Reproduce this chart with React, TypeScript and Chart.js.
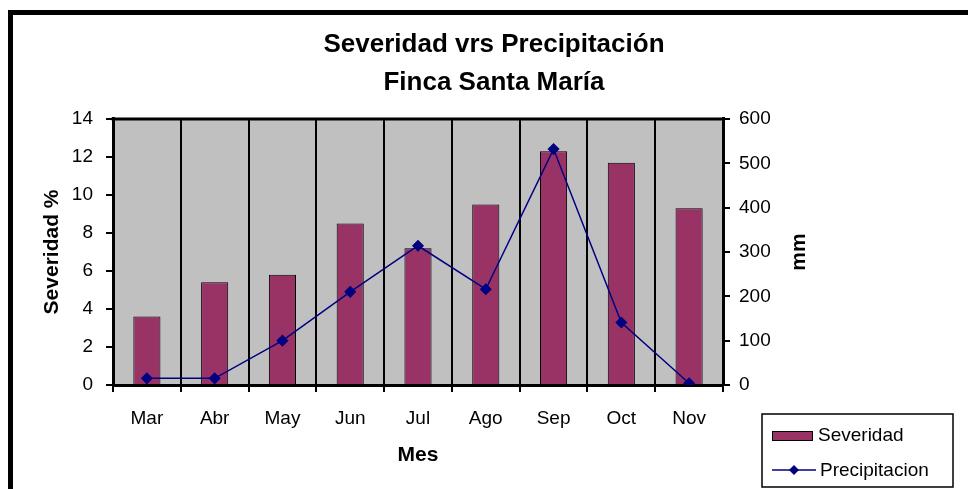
import React, { useEffect, useRef } from "react";
import { Chart, registerables } from "chart.js";

Chart.register(...registerables);

const months = ["Mar", "Abr", "May", "Jun", "Jul", "Ago", "Sep", "Oct", "Nov"];
const severidad = [3.6, 5.4, 5.8, 8.5, 7.2, 9.5, 12.3, 11.7, 9.3];
const precipitacion = [15, 15, 100, 210, 314, 216, 532, 141, 4];
const titleLines = ["Severidad vrs Precipitación", "Finca Santa María"];
const severidadLabel = "Severidad";
const precipLabel = "Precipitacion";
const leftAxisTitle = "Severidad %";
const rightAxisTitle = "mm";
const xAxisTitle = "Mes";

const FONT = '"Liberation Sans", Arial, Helvetica, sans-serif';
const BAR_COLOR = "#993366";
const LINE_COLOR = "#000080";
const PLOT_BG = "#C0C0C0";

export default function App() {
  const canvasRef = useRef<HTMLCanvasElement | null>(null);

  useEffect(() => {
    const canvas = canvasRef.current;
    if (!canvas) return;

    const decorPlugin = {
      id: "decor",
      beforeDraw(chart: any) {
        const { ctx, chartArea } = chart;
        ctx.save();
        ctx.fillStyle = PLOT_BG;
        ctx.fillRect(chartArea.left, chartArea.top, chartArea.right - chartArea.left, chartArea.bottom - chartArea.top);
        ctx.restore();
      },
      afterDraw(chart: any) {
        const { ctx, chartArea } = chart;
        ctx.save();
        // top border of plot area
        ctx.strokeStyle = "#000";
        ctx.lineWidth = 3;
        ctx.beginPath();
        ctx.moveTo(chartArea.left - 1.5, chartArea.top);
        ctx.lineTo(chartArea.right + 1.5, chartArea.top);
        ctx.stroke();

        // right axis title, rotated counter-clockwise
        ctx.fillStyle = "#000";
        ctx.font = `bold 21px ${FONT}`;
        ctx.textAlign = "center";
        ctx.textBaseline = "middle";
        ctx.translate(799, (chartArea.top + chartArea.bottom) / 2);
        ctx.rotate(-Math.PI / 2);
        ctx.fillText(rightAxisTitle, 0, 0);
        ctx.restore();

        // legend
        const ds = chart.data.datasets;
        ctx.save();
        ctx.strokeStyle = "#000";
        ctx.lineWidth = 1.5;
        ctx.strokeRect(762, 414, 191, 73);
        // bar swatch
        ctx.fillStyle = BAR_COLOR;
        ctx.fillRect(772, 431, 40, 9);
        ctx.lineWidth = 1;
        ctx.strokeRect(772.5, 431.5, 40, 9);
        // line swatch
        ctx.strokeStyle = LINE_COLOR;
        ctx.lineWidth = 1.5;
        ctx.beginPath();
        ctx.moveTo(772, 470);
        ctx.lineTo(816, 470);
        ctx.stroke();
        ctx.fillStyle = LINE_COLOR;
        ctx.beginPath();
        ctx.moveTo(794, 465);
        ctx.lineTo(799, 470);
        ctx.lineTo(794, 475);
        ctx.lineTo(789, 470);
        ctx.closePath();
        ctx.fill();
        // texts
        ctx.fillStyle = "#000";
        ctx.font = `19px ${FONT}`;
        ctx.textAlign = "left";
        ctx.textBaseline = "middle";
        ctx.fillText(ds[0].label, 818, 436);
        ctx.fillText(ds[1].label, 820, 471);
        ctx.restore();
      },
    };

    const chart = new Chart(canvas, {
      type: "bar",
      data: {
        labels: months,
        datasets: [
          {
            type: "bar",
            label: severidadLabel,
            data: severidad,
            yAxisID: "y",
            backgroundColor: BAR_COLOR,
            borderColor: "#000",
            borderWidth: 1,
            barPercentage: 0.4,
            categoryPercentage: 1,
            order: 1,
          },
          {
            type: "line",
            label: precipLabel,
            data: precipitacion,
            yAxisID: "y1",
            borderColor: LINE_COLOR,
            backgroundColor: LINE_COLOR,
            borderWidth: 1.5,
            pointStyle: "rectRot",
            pointRadius: 5,
            pointBackgroundColor: LINE_COLOR,
            pointBorderColor: LINE_COLOR,
            tension: 0,
            fill: false,
            order: 0,
          },
        ],
      },
      options: {
        responsive: false,
        animation: false,
        layout: { padding: { left: 20, right: 0, top: 0, bottom: 0 } },
        plugins: {
          legend: { display: false },
          tooltip: { enabled: false },
          title: {
            display: true,
            text: titleLines,
            color: "#000",
            font: { family: FONT, size: 26, weight: "bold", lineHeight: 1.46 },
            padding: { top: 26, bottom: 17 },
          },
        },
        scales: {
          x: {
            offset: true,
            grid: {
              offset: true,
              display: true,
              drawOnChartArea: true,
              drawTicks: true,
              tickLength: 7,
              color: "#000",
              lineWidth: 2,
            },
            border: { display: true, color: "#000", width: 3 },
            ticks: { color: "#000", font: { family: FONT, size: 19 }, padding: 15 },
            title: {
              display: true,
              text: xAxisTitle,
              color: "#000",
              font: { family: FONT, size: 21, weight: "bold" },
              padding: { top: 0, bottom: 21 },
            },
            afterFit(scale: any) {
              scale.height = 104;
            },
          },
          y: {
            position: "left",
            min: 0,
            max: 14,
            ticks: { stepSize: 2, color: "#000", font: { family: FONT, size: 19 }, padding: 13 },
            grid: { drawOnChartArea: false, drawTicks: true, tickLength: 7, color: "#000", lineWidth: 2 },
            border: { display: true, color: "#000", width: 3 },
            title: {
              display: true,
              text: leftAxisTitle,
              color: "#000",
              font: { family: FONT, size: 21, weight: "bold" },
              padding: { top: 20, bottom: 0 },
            },
            afterFit(scale: any) {
              scale.width = 93;
            },
          },
          y1: {
            position: "right",
            min: 0,
            max: 600,
            ticks: { stepSize: 100, color: "#000", font: { family: FONT, size: 19 }, padding: 9 },
            grid: { drawOnChartArea: false, drawTicks: true, tickLength: 7, color: "#000", lineWidth: 2 },
            border: { display: true, color: "#000", width: 3 },
            afterFit(scale: any) {
              scale.width = 245;
            },
          },
        },
      },
      plugins: [decorPlugin],
    } as any);

    return () => {
      chart.destroy();
    };
  }, []);

  return (
    <div
      style={{
        position: "fixed",
        left: 0,
        top: 0,
        width: 968,
        height: 489,
        overflow: "hidden",
        background: "#fff",
      }}
    >
      <div
        style={{
          position: "absolute",
          left: 8,
          top: 10,
          width: 2000,
          height: 2000,
          border: "5px solid #000",
          boxSizing: "border-box",
        }}
      />
      <canvas ref={canvasRef} width={968} height={489} style={{ position: "absolute", left: 0, top: 0 }} />
    </div>
  );
}
